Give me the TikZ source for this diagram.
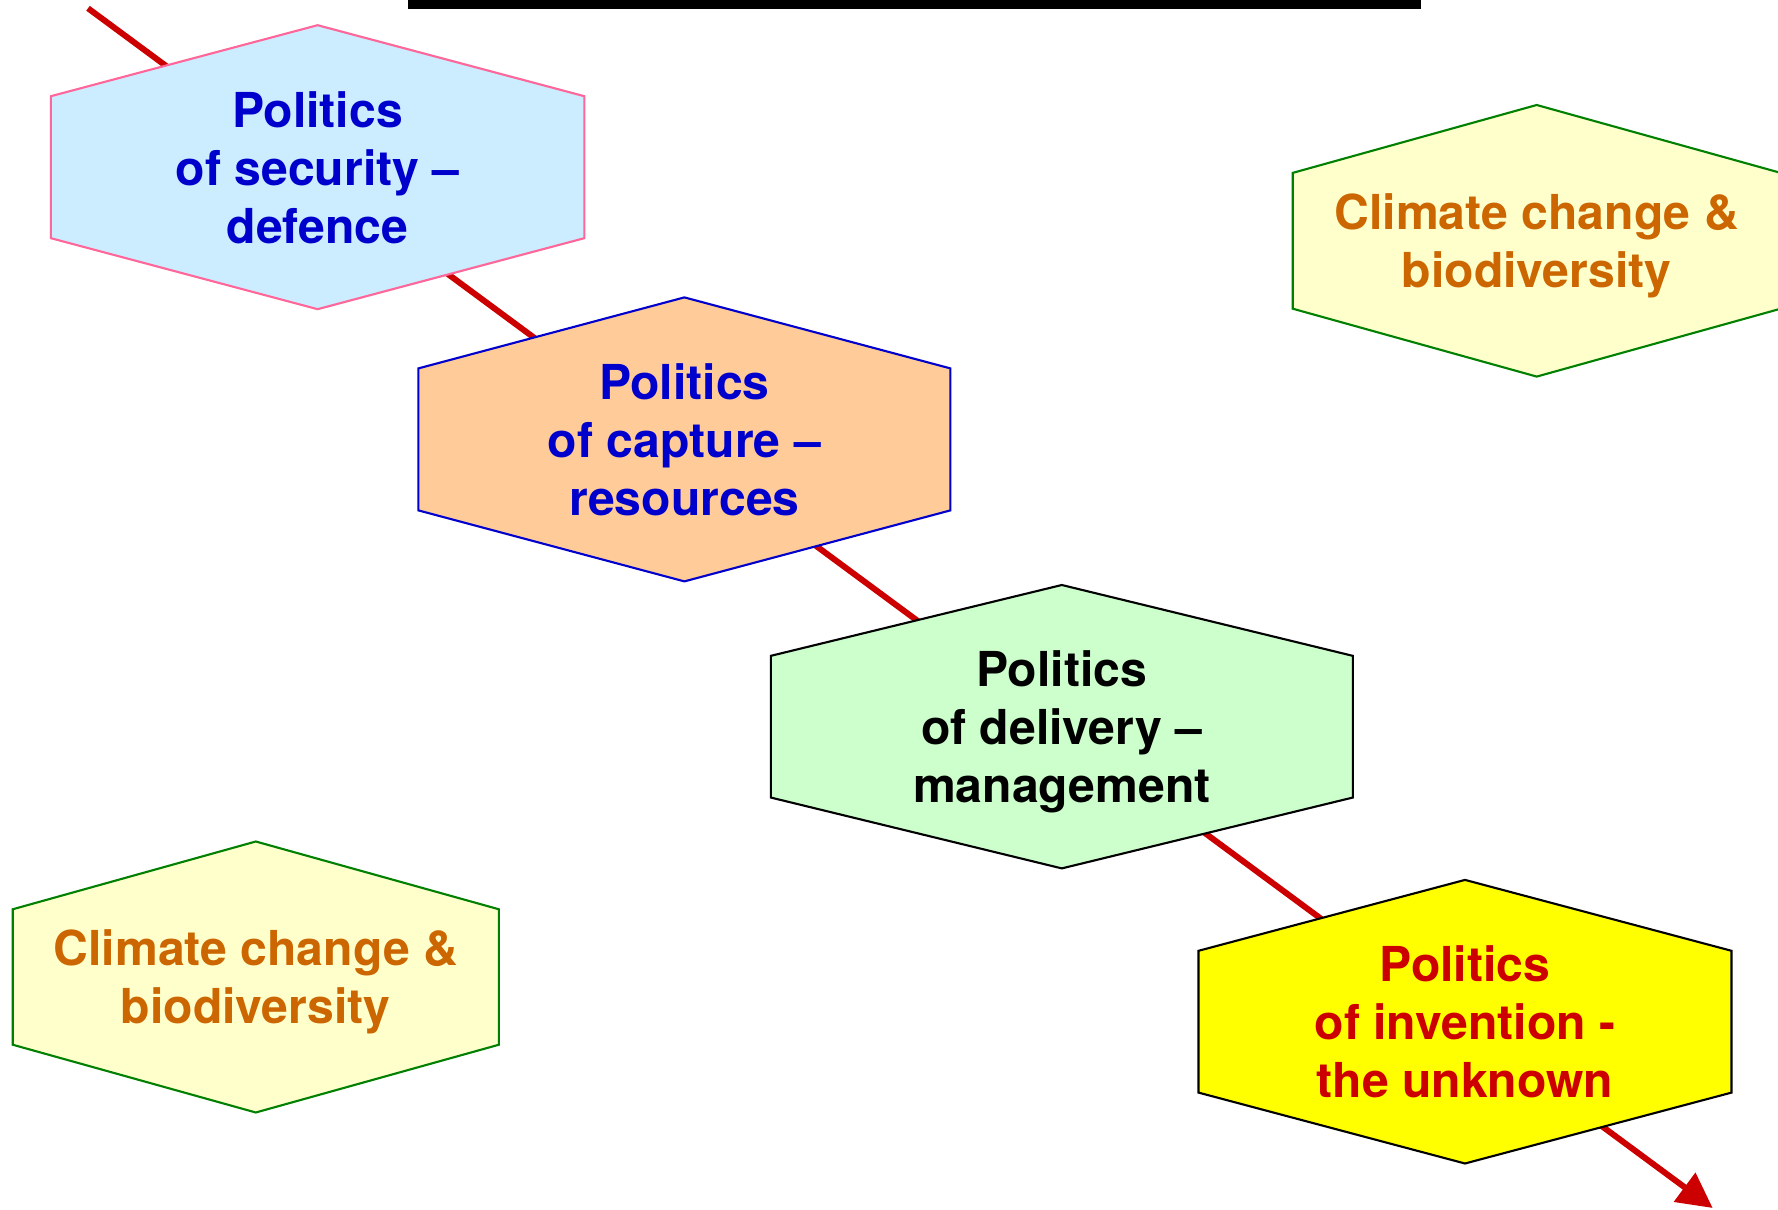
\documentclass[tikz,border=0pt]{standalone}
\usepackage{fontspec}
\setmainfont{TeX Gyre Heros}
\usepackage{tikz}
\usetikzlibrary{arrows.meta,calc,backgrounds}

\definecolor{secfill}{HTML}{CCECFF}
\definecolor{secline}{HTML}{FF6699}
\definecolor{capfill}{HTML}{FFCC99}
\definecolor{delfill}{HTML}{CCFFCC}
\definecolor{invfill}{HTML}{FFFF00}
\definecolor{climfill}{HTML}{FFFFCC}
\definecolor{climline}{HTML}{008000}
\definecolor{climtext}{HTML}{CC6600}
\definecolor{polblue}{HTML}{0000CC}
\definecolor{polred}{HTML}{CC0000}

\tikzset{
  hexlabel/.style={align=center,inner sep=0pt,text depth=0pt,font=\bfseries\fontsize{13.7}{16.5}\selectfont},
  hexline/.style={line width=0.6pt},
  timeline/.style={draw=polred,line width=1.7pt,-{Triangle[length=0.35cm,width=0.35cm]}}
}

\begin{document}
\begin{tikzpicture}
  \useasboundingbox (0,0) rectangle (17.78,12.09);
  % the bar at the top
  \fill[black] (4.08,12.0) rectangle (14.21,12.09);
  % Define the labels of the hexagons
  \path (3.176,10.418) node[hexlabel,text=polblue] (sec) {Politics\\of security --\\defence};
  \path (6.844,7.696) node[hexlabel,text=polblue] (cap) {Politics\\of capture --\\resources};
  \path (10.618,4.823) node[hexlabel,text=black] (del) {Politics\\of delivery --\\management};
  \path (14.65,1.873) node[hexlabel,text=polred] (inv) {Politics\\of invention -\\the unknown};
  \path (15.367,9.682) node[hexlabel,text=climtext] (climA) {Climate change \&\\biodiversity};
  \path (2.558,2.32) node[hexlabel,text=climtext] (climB) {Climate change \&\\biodiversity};
  % the red line runs under the hexagons
  \coordinate (start) at (0.88,12.007);
  \coordinate (end) at (17.127,0.01);
  \begin{scope}[on background layer]
    \draw[timeline] (start) -- (end);
    % Draw the hexagons round the labels
    \foreach \n/\hw/\hh/\fc/\dc in {sec/2.667/1.42/secfill/secline, cap/2.66/1.42/capfill/polblue,
        del/2.91/1.417/delfill/black, inv/2.665/1.418/invfill/black,
        climA/2.44/1.358/climfill/climline, climB/2.43/1.355/climfill/climline}
      \filldraw[hexline,fill=\fc,draw=\dc] ($(\n)+(0,\hh)$) -- ($(\n)+(-\hw,\hh/2)$) -- ($(\n)+(-\hw,-\hh/2)$)
        -- ($(\n)+(0,-\hh)$) -- ($(\n)+(\hw,-\hh/2)$) -- ($(\n)+(\hw,\hh/2)$) -- cycle;
  \end{scope}
\end{tikzpicture}
\end{document}
